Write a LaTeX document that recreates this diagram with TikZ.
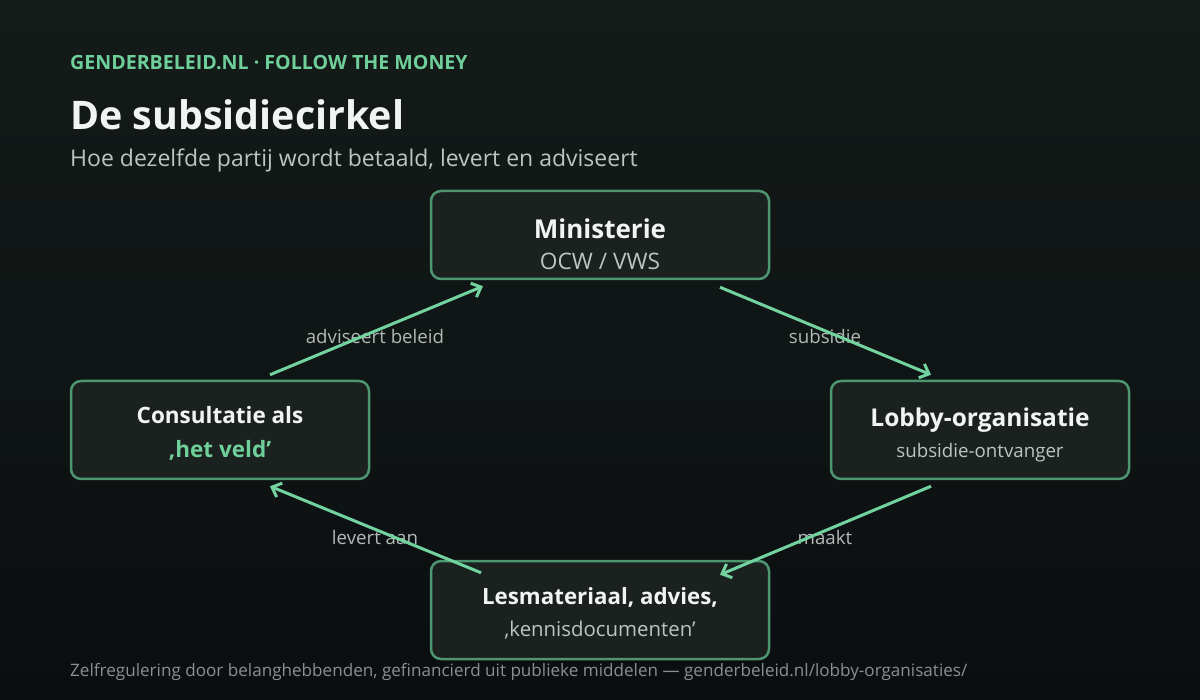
\documentclass[tikz,border=0pt]{standalone}
\usepackage{fontspec}
\setmainfont{Open Sans}
\usetikzlibrary{arrows.meta, positioning}
\definecolor{bgtop}{RGB}{20,27,24}
\definecolor{bgbottom}{RGB}{11,14,17}
\definecolor{boxfill}{RGB}{27,33,30}
\definecolor{boxline}{RGB}{76,150,112}
\definecolor{flowgreen}{RGB}{114,210,160}
\definecolor{kickergreen}{RGB}{111,207,154}
\definecolor{titlewhite}{RGB}{242,244,243}
\definecolor{subgray}{RGB}{190,196,193}
\definecolor{labelgray}{RGB}{178,184,181}
\definecolor{footgray}{RGB}{138,144,141}

\begin{document}
\begin{tikzpicture}[
  x=1pt, y=-1pt,
  box/.style={rectangle, rounded corners=10pt, draw=boxline, line width=2.5pt,
    fill=boxfill, minimum width=298pt, minimum height=98pt},
  ttl/.style={anchor=base, text=titlewhite, font=\fontsize{22.5}{27}\selectfont\bfseries},
  sub/.style={anchor=base, text=subgray, font=\fontsize{19}{23}\selectfont},
  elabel/.style={anchor=base, text=labelgray, font=\fontsize{18.7}{22}\selectfont},
  head/.style={anchor=base west, inner sep=0pt},
  flow/.style={-{Straight Barb[length=8pt,width=15pt]}, line width=3pt, flowgreen},
]

% === Background ===
\shade[top color=bgtop, bottom color=bgbottom] (0,0) rectangle (1200,700);
\useasboundingbox (0,0) rectangle (1200,700);

% === Header ===
\node[head, text=kickergreen, font=\fontsize{19.6}{23}\selectfont\bfseries]
  (kicker) at (70,70) {GENDERBELEID.NL · FOLLOW THE MONEY};
\node[head, text=titlewhite, font=\fontsize{39.4}{46}\selectfont\bfseries]
  (title) at (70,130) {De subsidiecirkel};
\node[head, text=subgray, font=\fontsize{23}{27}\selectfont]
  (subtitle) at (70,167) {Hoe dezelfde partij wordt betaald, levert en adviseert};

% === Edge labels (under the arrows) ===
\node[elabel] (lbladvies) at (375,344) {adviseert beleid};
\node[elabel] (lblsubsidie) at (825,344) {subsidie};
\node[elabel] (lbllevert) at (375,544) {levert aan};
\node[elabel] (lblmaakt) at (825,544) {maakt};

% === Boxes ===
\node[box, minimum width=338pt, minimum height=88pt] (mini) at (600,235) {};
\node[ttl, font=\fontsize{26}{30}\selectfont\bfseries] (minittl) at (600,239) {Ministerie};
\node[sub, font=\fontsize{22.7}{27}\selectfont] (minisub) at (600,270) {OCW / VWS};

\node[box] (cons) at (220,430) {};
\node[ttl] (consttl) at (220,424) {Consultatie als};
\node[ttl, text=kickergreen] (conssub) at (220,458) {‚het veld’};

\node[box] (lobby) at (980,430) {};
\node[ttl, font=\fontsize{24.5}{28}\selectfont\bfseries] (lobbyttl) at (980,427) {Lobby-organisatie};
\node[sub, font=\fontsize{18.7}{22}\selectfont] (lobbysub) at (980,457) {subsidie-ontvanger};

\node[box, minimum width=338pt] (les) at (600,610) {};
\node[ttl, font=\fontsize{22.3}{27}\selectfont\bfseries] (lesttl) at (600,604) {Lesmateriaal, advies,};
\node[sub, font=\fontsize{20.4}{24}\selectfont] (lessub) at (600,636) {‚kennisdocumenten’};

% === Arrows ===
\draw[flow] ([xshift=50pt,yshift=5pt]cons.north) -- ([xshift=-117pt,yshift=-6pt]mini.south);
\draw[flow] ([xshift=120pt,yshift=-7pt]mini.south) -- ([xshift=-49pt,yshift=5pt]lobby.north);
\draw[flow] ([xshift=-49pt,yshift=-6pt]lobby.south) -- ([xshift=120pt,yshift=-15pt]les.north);
\draw[flow] ([xshift=-119pt,yshift=-13pt]les.north) -- ([xshift=50pt,yshift=-6pt]cons.south);

% === Footer ===
\node[head, text=footgray, font=\fontsize{17.1}{21}\selectfont]
  (footer) at (70,676) {Zelfregulering door belanghebbenden, gefinancierd uit publieke middelen — genderbeleid.nl/lobby-organisaties/};

\end{tikzpicture}
\end{document}
